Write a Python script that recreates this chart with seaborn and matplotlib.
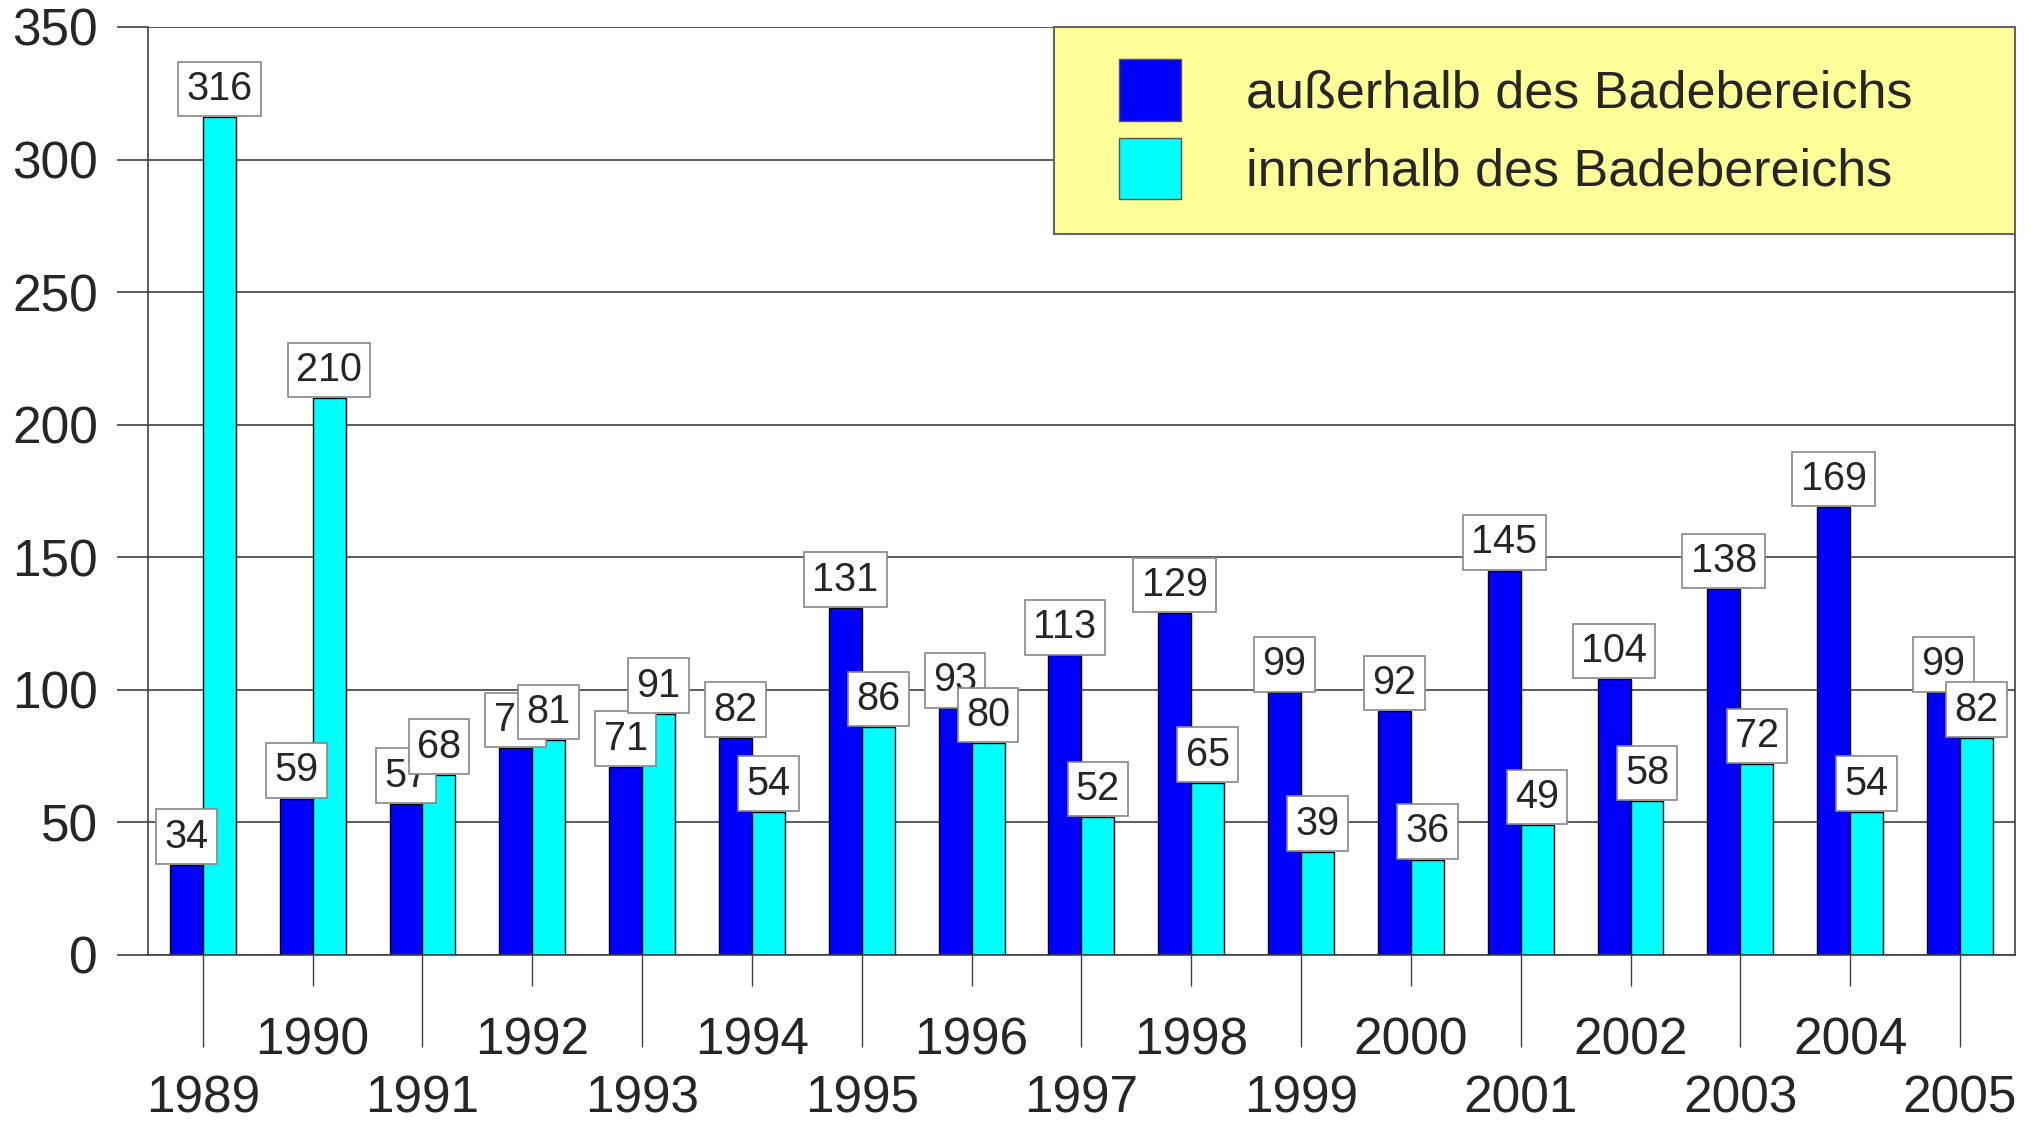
import pandas as pd
import matplotlib.pyplot as plt
import seaborn as sns
from matplotlib.patches import Rectangle

# Data
years = [str(y) for y in range(1989, 2006)]
ausserhalb = [34, 59, 57, 78, 71, 82, 131, 93, 113, 129, 99, 92, 145, 104, 138, 169, 99]
innerhalb = [316, 210, 68, 81, 91, 54, 86, 80, 52, 65, 39, 36, 49, 58, 72, 54, 82]
series_names = ["außerhalb des Badebereichs", "innerhalb des Badebereichs"]
colors = ["#0000FF", "#00FFFF"]
y_ticks = [0, 50, 100, 150, 200, 250, 300, 350]

df = pd.DataFrame({
    "Jahr": years * 2,
    "Anzahl": ausserhalb + innerhalb,
    "Bereich": [series_names[0]] * len(years) + [series_names[1]] * len(years),
})

sns.set_style("white")
plt.rcParams["font.family"] = ["Liberation Sans", "DejaVu Sans"]

fig = plt.figure(figsize=(20.4, 11.24), dpi=100)
ax = fig.add_axes([0.0725, 0.1504, 0.9152, 0.8256])

sns.barplot(data=df, x="Jahr", y="Anzahl", hue="Bereich", order=years,
            hue_order=series_names, palette=colors, width=0.6, saturation=1,
            edgecolor="black", linewidth=1, ax=ax)
ax.get_legend().remove()

ax.set_xlim(-0.5, len(years) - 0.5)
ax.set_ylim(0, 350)
ax.set_yticks(y_ticks)
ax.yaxis.grid(True, color="#404040", linewidth=1.2)
ax.set_axisbelow(True)
ax.set_xlabel("")
ax.set_ylabel("")

# alternating year labels: odd years low with long ticks, even years high
idx = list(range(len(years)))
ax.set_xticks(idx[0::2], labels=years[0::2])
ax.set_xticks(idx[1::2], labels=years[1::2], minor=True)
ax.tick_params(axis="x", which="major", length=66, width=1, color="#404040",
               pad=20, labelsize=37, direction="out", bottom=True)
ax.tick_params(axis="x", which="minor", length=22, width=1, color="#404040",
               pad=22, labelsize=37, direction="out", bottom=True)
ax.tick_params(axis="y", length=22, width=1.2, color="#404040", pad=14,
               labelsize=37, direction="out", left=True)

for side in ["left", "right", "bottom"]:
    ax.spines[side].set_color("#404040")
    ax.spines[side].set_linewidth(1.2)
ax.spines["top"].set_visible(False)

# value labels in white boxes sitting on the bar tops
for cont in ax.containers:
    for bar in cont:
        h = bar.get_height()
        ax.annotate(f"{h:.0f}", xy=(bar.get_x() + bar.get_width() / 2, h),
                    xytext=(0, 6.5), textcoords="offset points",
                    ha="center", va="bottom", fontsize=28.5, zorder=4,
                    bbox=dict(boxstyle="square,pad=0.21", fc="white",
                              ec="#888888", lw=1.2))

# yellow legend panel
ax.add_patch(Rectangle((0.4853, 0.777), 0.5147, 0.223, transform=ax.transAxes,
                       facecolor="#FFFF99", edgecolor="#666666", lw=1.5,
                       zorder=5, clip_on=False))
handles = [Rectangle((0, 0), 1, 1, facecolor=c, edgecolor="#555555") for c in colors]
leg = ax.legend(handles, series_names, loc="upper left",
                bbox_to_anchor=(0.520, 0.9655), frameon=False, fontsize=37.5,
                borderpad=0, borderaxespad=0, handlelength=1.2,
                handleheight=1.45, handletextpad=1.25, labelspacing=0.32)
leg.set_zorder(6)

fig.savefig("out.png", dpi=100)
